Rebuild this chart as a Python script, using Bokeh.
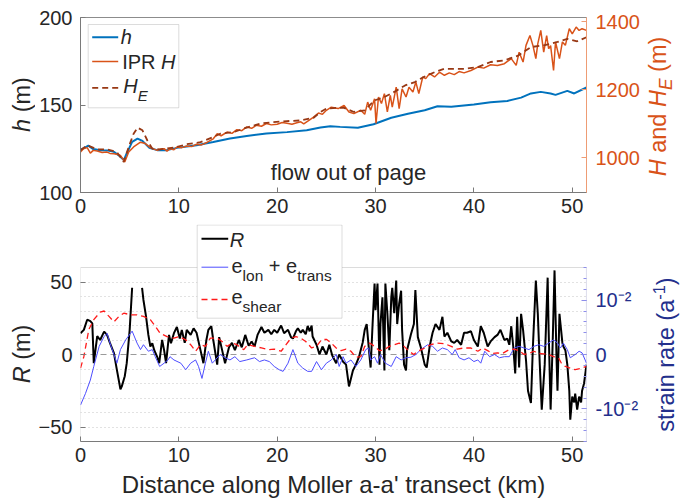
import math
import numpy as np
from bokeh.plotting import figure
from bokeh.layouts import column, row
from bokeh.models import (Range1d, LinearAxis, FixedTicker, Label, BoxAnnotation,
                          Arrow, Span)
from bokeh.embed import file_html
from bokeh.resources import INLINE

# ---------------- data ----------------
# surface-derived thickness h (m)
h_km = [0, 0.4, 0.8, 1.3, 2.0, 2.8, 3.4, 4.0, 4.4, 4.7, 5.25, 5.8, 6.3, 7.0, 7.8, 8.8, 9.8,
        11.8, 13.5, 15.2, 16.9, 18.9, 21.0, 23.0, 24.4, 25.4, 26.4, 28.2, 29.8, 31.6, 33.3,
        35.0, 36.3, 37.7, 40.0, 41.7, 43.4, 44.8, 45.8, 46.8, 47.8, 48.3, 49.5, 50.2, 51.45]
h_m = [124.5, 125.5, 126.8, 124.8, 124.2, 124.0, 123.2, 120.7, 118.5, 122.3, 128.9, 130.8,
       129.5, 125.5, 124.2, 124.2, 125.5, 127.0, 128.9, 130.9, 132.3, 133.7, 134.5, 135.6,
       137.1, 137.9, 137.5, 137.0, 139.0, 142.7, 145.0, 147.0, 149.3, 149.0, 150.3, 151.6,
       152.3, 154.2, 156.6, 157.5, 156.6, 155.8, 158.1, 156.6, 160.0]

# IPR ice thickness H (m)
H_km = [0, 0.3, 0.68, 1.0, 1.3, 1.7, 2.2, 2.7, 3.0, 3.4, 3.8, 4.06, 4.5, 4.9, 5.4, 6.1, 6.6,
        7.1, 7.8, 8.2, 8.5, 8.8, 9.1, 9.5, 9.8, 10.3, 10.8, 11.3, 11.8, 12.3, 12.9, 13.5, 13.9,
        14.3, 14.9, 15.4, 15.9, 16.4, 16.9, 17.4, 17.9, 18.4, 18.9, 19.4, 20.0, 20.5, 21.0,
        21.5, 22.0, 22.4, 22.7, 23.3, 23.7, 24.2, 24.6, 25.0, 25.5, 26.2, 26.8, 27.3, 27.8,
        28.5, 28.9, 29.2, 29.5, 29.9, 30.05, 30.3, 30.6, 30.9, 31.2, 31.5, 31.7, 32.1, 32.4,
        32.7, 33.1, 33.4, 33.8, 34.1, 34.4, 34.8, 35.1, 35.5, 36.0, 36.5, 37.0, 37.5, 38.0,
        38.5, 39.0, 39.7, 40.4, 41.0, 41.7, 42.4, 43.1, 43.8, 44.3, 44.6, 45.0, 45.3, 45.7,
        46.0, 46.3, 46.5, 46.8, 47.1, 47.4, 47.6, 47.8, 48.1, 48.3, 48.7, 49.0, 49.3, 49.7,
        50.0, 50.4, 50.7, 51.0, 51.45]
H_m = [1017, 1027, 1030, 1014, 1022, 1020, 1016, 1017, 1013, 1012, 1010, 1007, 988, 1017,
       1032, 1046, 1042, 1030, 1022, 1026, 1027, 1020, 1027, 1024, 1032, 1030, 1035, 1033,
       1040, 1038, 1046, 1056, 1071, 1065, 1076, 1072, 1083, 1080, 1091, 1087, 1096, 1093,
       1101, 1097, 1099, 1104, 1102, 1099, 1103, 1106, 1100, 1112, 1120, 1132, 1128, 1140,
       1149, 1145, 1154, 1135, 1130, 1140, 1128, 1164, 1140, 1174, 1101, 1179, 1160, 1189,
       1135, 1184, 1149, 1208, 1145, 1203, 1179, 1208, 1194, 1223, 1189, 1238, 1233, 1248,
       1238, 1252, 1243, 1250, 1245, 1254, 1250, 1257, 1267, 1264, 1274, 1272, 1277, 1292,
       1272, 1311, 1282, 1331, 1360, 1331, 1292, 1336, 1375, 1311, 1360, 1321, 1330, 1257,
       1341, 1292, 1341, 1331, 1380, 1365, 1385, 1375, 1380, 1375]

# hydrostatic-equilibrium thickness H_E (m)
HE_km = [0, 0.68, 1.7, 2.7, 3.7, 4.4, 4.9, 5.4, 5.8, 6.3, 6.8, 7.3, 8.1, 9.5, 10.8, 12.2,
         13.5, 14.2, 15.6, 16.9, 18.3, 19.6, 21.0, 22.3, 23.7, 24.4, 25.0, 26.1, 26.8, 27.8,
         28.9, 29.9, 30.9, 31.9, 33.0, 34.0, 34.9, 36.0, 37.0, 38.0, 39.0, 40.4, 41.7, 43.1,
         44.5, 45.8, 47.1, 48.5, 49.5, 50.5, 51.45]
HE_m = [1022, 1037, 1025, 1025, 1017, 988, 1032, 1071, 1089, 1081, 1051, 1027, 1025, 1030,
        1040, 1046, 1061, 1071, 1076, 1089, 1101, 1105, 1108, 1110, 1118, 1135, 1145, 1147,
        1147, 1135, 1140, 1169, 1179, 1194, 1213, 1223, 1238, 1252, 1262, 1262, 1262, 1267,
        1282, 1287, 1301, 1326, 1331, 1341, 1350, 1343, 1355]

# residual R (m); NaN marks the gap in the record
R_km = [0, 0.34, 0.68, 1.0, 1.2, 1.35, 1.7, 2.0, 2.4, 2.7, 3.0, 3.4, 3.7, 4.06, 4.2, 4.5,
        4.7, 5.0, 5.25, 5.75, 6.26, 6.4, 6.67, 6.9, 7.1, 7.3, 7.5, 7.8, 8.0, 8.3, 8.5, 8.7,
        9.0, 9.2, 9.5, 9.8, 10.1, 10.3, 10.6, 10.8, 11.2, 11.5, 11.8, 12.2, 12.5, 12.8, 13.0,
        13.3, 13.5, 13.9, 14.1, 14.4, 14.7, 15.1, 15.4, 15.7, 16.1, 16.4, 16.75, 17.1, 17.4,
        17.7, 18.0, 18.4, 18.7, 19.1, 19.4, 19.7, 20.0, 20.4, 20.7, 21.1, 21.4, 21.6, 21.9,
        22.1, 22.4, 22.6, 22.9, 23.1, 23.3, 23.5, 23.6, 24.0, 24.3, 24.6, 25.0, 25.3, 25.6,
        26.0, 26.3, 26.7, 27.0, 27.3, 27.7, 28.0, 28.3, 28.7, 28.9, 29.1, 29.4, 29.5, 29.7,
        29.9, 30.0, 30.2, 30.4, 30.5, 30.7, 30.9, 31.0, 31.2, 31.4, 31.6, 31.7, 31.9, 32.1,
        32.2, 32.4, 32.6, 32.7, 32.9, 33.1, 33.2, 33.6, 33.9, 34.05, 34.3, 34.6, 35.0, 35.2,
        35.5, 35.8, 36.1, 36.5, 36.8, 37.0, 37.3, 37.7, 38.0, 38.3, 38.7, 39.0, 39.3, 39.7,
        40.0, 40.4, 40.7, 41.0, 41.4, 41.7, 42.1, 42.4, 42.7, 43.1, 43.4, 43.6, 43.8, 44.0,
        44.2, 44.4, 44.6, 44.8, 45.0, 45.3, 45.5, 45.8, 46.0, 46.3, 46.5, 46.7, 46.9, 47.2,
        47.5, 47.6, 47.8, 48.0, 48.2, 48.4, 48.5, 48.7, 49.0, 49.1, 49.3, 49.5, 49.7, 49.8,
        50.0, 50.2, 50.3, 50.5, 50.7, 50.9, 51.0, 51.2, 51.45]
R_m = [14.7, 17, 24, 23, 21.5, -6, 12.6, 10, 15.8, 13.5, 7.8, 1, -10.6, -24, -22, -15,
       -6, 17, 46, float("nan"), 46, 37.6, 26, 13.5, 5.5, 7.8, 3, -1.6, -6, 10, 3, -6,
       13.5, 7.8, 14.7, 19, 11, 17, 8, 17, 13.5, 18, 15, 3, -6, 10, 17,
       19.5, 10, -7, 12, 3, -6, 5, 8, 3, 10, 5, 13.5, 6, 9,
       5.5, 13.5, 19, 15, 17, 14, 17, 15, 20, 14.7, 17, 12, 11, 16,
       18, 15, 17, 14, 19.7, 16, 20, 12.4, 6.7, 0, 5.5, 0, 6.7, -0.7,
       -6, 0, -5, -7, -22, -11, -7, -2, 8.5, 17, 21, -2, -9, 21,
       49, 30.5, 49, -7, 21, 39.5, -11, 49, 28.5, 3, 39.5, 46, 28.5, 51,
       21, 35, 44, 17, -7, -11, 3, 14, 21, 44.5, 12, 5, -7, -9,
       5.5, 15, 21, 17, 26, 12.4, 15, 9, 8, 10, 6.7, 15, 15, 16,
       10, 5.5, 19.5, 15, 5.5, 9, 12, 13.5, 17, 10, 11, 6.7, 19.5, 5.5,
       -13, 26, -9, 28, 17, -4, -25, -33.5, 5.5, 51, 28, -7, -38, -7,
       53, 17, -38, 5.5, 58, -2, -25, 28, 8, 5.5, 3, -7, -25, -45,
       -29, -33, -27, -38, -29, -33, -25, -20, -7]

# e_lon + e_trans strain rate (1/a)
esum_km = [0, 0.5, 1.0, 1.35, 1.9, 2.4, 2.7, 3.0, 3.4, 3.7, 4.06, 4.6, 5.25, 5.75, 6.1, 6.4,
           6.9, 7.3, 7.6, 8.05, 8.5, 8.9, 9.1, 9.5, 10.2, 10.7, 11.2, 11.7, 12.0, 12.35, 12.7,
           13.0, 13.4, 13.7, 14.2, 14.7, 15.2, 15.7, 16.2, 16.9, 17.7, 18.2, 18.7, 19.2, 19.7,
           20.2, 20.6, 21.1, 21.6, 22.1, 22.6, 23.1, 23.5, 24.0, 24.5, 25.0, 25.5, 26.0, 26.3,
           26.7, 27.0, 27.5, 28.0, 28.5, 29.0, 29.3, 29.5, 29.9, 30.2, 30.5, 31.0, 31.6, 32.1,
           32.6, 33.1, 33.6, 34.1, 34.6, 35.3, 35.8, 36.3, 36.8, 37.3, 37.8, 38.1, 38.5, 39.0,
           39.5, 40.0, 40.4, 40.7, 41.1, 41.6, 42.1, 42.6, 43.1, 43.6, 44.1, 44.6, 45.1, 45.6,
           46.1, 46.6, 47.1, 47.6, 48.1, 48.5, 48.8, 49.1, 49.5, 49.8, 50.3, 50.7, 51.0, 51.45]
esum = [-0.0093, -0.0072, -0.0047, -0.0022, 0.0015, 0.0033, 0.0039, 0.0021, 0.0000, -0.0016,
        0.0009, 0.0027, 0.0043, 0.0021, 0.0009, 0.0018, 0.0006, 0.0009, -0.0004, -0.0022,
        -0.0016, -0.0010, -0.0004, -0.0010, -0.0016, -0.0028, -0.0016, -0.0010, -0.0022,
        -0.0044, -0.0016, 0.0006, -0.0016, -0.0010, 0.0000, -0.0006, -0.0010, -0.0004,
        -0.0013, -0.0010, -0.0006, -0.0013, -0.0010, -0.0013, -0.0022, -0.0028, -0.0031,
        -0.0016, 0.0009, -0.0016, -0.0025, -0.0031, -0.0031, -0.0013, -0.0028, -0.0016,
        -0.0010, 0.0000, -0.0022, -0.0004, -0.0016, -0.0010, -0.0022, -0.0010, 0.0009,
        0.0012, -0.0010, -0.0004, -0.0016, 0.0000, -0.0016, -0.0022, -0.0004, -0.0010,
        -0.0006, -0.0005, 0.0000, 0.0009, 0.0018, 0.0015, 0.0006, 0.0012, 0.0009, 0.0000,
        0.0009, -0.0006, -0.0010, -0.0006, -0.0013, -0.0010, -0.0016, 0.0006, -0.0004,
        0.0000, -0.0006, -0.0004, -0.0004, 0.0012, 0.0015, 0.0012, 0.0009, 0.0015, 0.0018,
        0.0015, 0.0021, 0.0027, 0.0021, 0.0012, 0.0021, 0.0009, -0.0006, 0.0000, 0.0006,
        0.0003, -0.0016]

# e_shear strain rate (1/a)
eshear_km = [0, 0.34, 0.85, 1.35, 2.0, 2.4, 2.9, 3.4, 3.9, 4.4, 5.1, 5.75, 6.4, 7.1, 7.6,
             8.1, 8.8, 9.5, 10.0, 10.7, 11.2, 11.7, 12.2, 12.7, 13.2, 13.9, 14.4, 14.9, 15.4,
             15.9, 16.6, 17.0, 17.7, 18.4, 19.1, 19.7, 20.4, 20.9, 21.4, 21.9, 22.4, 22.9,
             23.5, 24.0, 24.5, 25.0, 25.5, 26.0, 26.5, 27.0, 27.5, 28.0, 28.5, 28.9, 29.4,
             29.9, 30.4, 30.9, 31.4, 31.9, 32.4, 32.9, 33.4, 33.9, 34.3, 35.0, 35.6, 36.3,
             37.0, 37.7, 38.3, 39.0, 39.7, 40.4, 40.9, 41.4, 41.9, 42.4, 42.9, 43.6, 44.1,
             44.6, 45.1, 45.6, 46.1, 46.6, 47.1, 47.6, 48.1, 48.6, 48.9, 49.3, 49.8, 50.3,
             50.8, 51.45]
eshear = [-0.0025, -0.0004, 0.0046, 0.0064, 0.0078, 0.0080, 0.0070, 0.0060, 0.0070, 0.0076,
          0.0073, 0.0073, 0.0070, 0.0064, 0.0052, 0.0039, 0.0033, 0.0030, 0.0033, 0.0027,
          0.0018, 0.0006, 0.0018, 0.0015, 0.0030, 0.0030, 0.0024, 0.0015, 0.0021, 0.0018,
          0.0009, 0.0018, 0.0015, 0.0012, 0.0009, 0.0010, 0.0006, 0.0018, 0.0030, 0.0033,
          0.0030, 0.0024, 0.0012, 0.0015, 0.0027, 0.0028, 0.0021, 0.0012, 0.0007, 0.0010,
          0.0006, -0.0005, -0.0004, 0.0015, 0.0021, 0.0015, 0.0007, 0.0009, 0.0015, 0.0018,
          0.0021, 0.0015, 0.0006, 0.0000, 0.0006, 0.0012, 0.0018, 0.0021, 0.0020, 0.0015,
          0.0010, 0.0012, 0.0012, 0.0006, 0.0012, 0.0007, 0.0002, 0.0003, 0.0002, 0.0009,
          0.0010, 0.0007, 0.0000, 0.0002, 0.0006, 0.0002, 0.0001, 0.0000, -0.0004, -0.0006,
          -0.0016, -0.0022, -0.0025, -0.0028, -0.0026, -0.0022]

# axis limits / ticks / labels
x_lim = (0, 51.45)
h_lim = (100, 200)
H_lim = (898, 1413)
R_lim = (-60, 60)
s_lim = (-0.016, 0.016)
x_ticks = [0, 10, 20, 30, 40, 50]
h_ticks = [100, 150, 200]
H_ticks = [1000, 1200, 1400]
R_ticks = [-50, 0, 50]
R_grid = [-50, -40, -30, -20, -10, 10, 20, 30, 40, 50]
s_ticks = [-0.01, 0, 0.01]
s_tick_labels = ["-10\u207b\u00b2", "0", "10\u207b\u00b2"]
s_minor = [-0.016, -0.014, -0.012, -0.010, -0.008, -0.006, -0.004, -0.002, 0.0, 0.002,
           0.004, 0.006, 0.008, 0.010, 0.012, 0.014, 0.016]

# ---------------- styling / layout (page pixels) ----------------
FONT = "Liberation Sans"
TXT = "#262626"
BLUE = "#0072BD"
ORANGE = "#D95319"
BROWN = "#983814"
NAVY = "#232F8C"
SBLUE = "#4D4DFF"
RED = "#FF1A1A"
GRAY = "#8c8c8c"
LSTRIP = 35      # left strip for y titles
RSTRIP = 642     # right strip starts here
FL = 79          # frame left
FR = 586         # frame right
FB1 = 192        # frame bottom of top panel
FT2 = 224        # drawing frame top of bottom panel
VT2 = 267        # visible box top of bottom panel
FB2 = 441        # frame bottom of bottom panel
KB = 0.34        # baseline correction (fraction of font size)

W = {' ': 278, '(': 333, ')': 333, '-': 333, "'": 191, '+': 584, 'a': 556, 'c': 500,
     'd': 556, 'e': 556, 'f': 278, 'g': 556, 'h': 556, 'i': 222, 'k': 500, 'l': 222,
     'm': 833, 'n': 556, 'o': 556, 'p': 556, 'r': 333, 's': 500, 't': 278, 'u': 556,
     'w': 722, 'D': 722, 'E': 667, 'H': 722, 'I': 278, 'M': 833, 'P': 667, 'R': 722,
     '1': 556, '2': 556}


def tw(s, size):
    return sum(W.get(c, 556) for c in s) * size / 1000.0


def rich(p, ox, oy, pieces, x0, y0, vertical=False):
    """place mixed-style text; (ox, oy) = page position of the frame's left/bottom."""
    adv = 0.0
    for txt, size, style, color, shift in pieces:
        lead = tw(txt[:len(txt) - len(txt.lstrip(' '))], size)
        a = adv + lead
        if vertical:
            cx, cy = x0 + shift - KB * size, y0 - a
        else:
            cx, cy = x0 + a, y0 + shift - KB * size
        p.add_layout(Label(x=cx - ox, y=oy - cy, x_units="screen", y_units="screen",
                           text=txt.strip(), text_font=FONT, text_font_size=f"{size}px",
                           text_font_style=style, text_color=color, text_align="left",
                           text_baseline="alphabetic",
                           angle=(math.pi / 2 if vertical else 0.0)))
        adv += tw(txt, size)
    return adv


def vtitle(p, ox, oy, pieces, xb, yc):
    L = sum(tw(t, s) for t, s, _, _, _ in pieces)
    rich(p, ox, oy, pieces, xb, yc + L / 2, vertical=True)


def style_axis(ax, color=TXT, line_color="#7a7a7a"):
    ax.major_tick_in = 5
    ax.major_tick_out = 0
    ax.minor_tick_in = 0
    ax.minor_tick_out = 0
    ax.axis_line_color = line_color
    ax.major_tick_line_color = line_color
    ax.major_label_text_font = FONT
    ax.major_label_text_font_size = "20px"
    ax.major_label_text_color = color


def sample(p, oy, x1, x2, y, **kw):
    p.add_layout(Arrow(x_start=x1 - FL, y_start=oy - y, x_end=x2 - FL, y_end=oy - y,
                       start_units="screen", end_units="screen", end=None, **kw))


def box(p, oy, l, r, t, b):
    p.add_layout(BoxAnnotation(left=l - FL, right=r - FL, top=oy - t, bottom=oy - b,
                               left_units="screen", right_units="screen",
                               top_units="screen", bottom_units="screen",
                               fill_color="white", fill_alpha=1.0,
                               line_color=GRAY, line_width=1))


MAIN_W = RSTRIP - LSTRIP
xr = Range1d(*x_lim)

# ---------------- top panel ----------------
p1 = figure(width=MAIN_W, height=223, x_range=xr, y_range=Range1d(*h_lim),
            output_backend="svg", toolbar_location=None,
            min_border_left=FL - LSTRIP, min_border_right=RSTRIP - FR,
            min_border_top=17, min_border_bottom=31)
p1.grid.visible = False
p1.outline_line_color = GRAY
p1.extra_y_ranges = {"H": Range1d(*H_lim)}
p1.xaxis.ticker = FixedTicker(ticks=x_ticks)
p1.yaxis.ticker = FixedTicker(ticks=h_ticks)
style_axis(p1.xaxis[0])
style_axis(p1.yaxis[0])
p1.xaxis.major_label_standoff = 6
p1.yaxis.major_label_standoff = 8
axH = LinearAxis(y_range_name="H", ticker=FixedTicker(ticks=H_ticks))
style_axis(axH, color=ORANGE, line_color="#EE9C74")
axH.major_label_standoff = 9
p1.add_layout(axH, "right")

p1.line(h_km, h_m, line_color=BLUE, line_width=2)
p1.line(H_km, H_m, y_range_name="H", line_color=ORANGE, line_width=1.5)
p1.line(HE_km, HE_m, y_range_name="H", line_color=BROWN, line_width=1.8, line_dash="6 4")

# legend (top)
box(p1, FB1, 86.7, 177.3, 24, 107.3)
sample(p1, FB1, 90.7, 116.7, 36.7, line_color=BLUE, line_width=2)
sample(p1, FB1, 90.7, 116.7, 61.0, line_color=ORANGE, line_width=1.5)
sample(p1, FB1, 90.7, 116.7, 87.3, line_color=BROWN, line_width=1.8, line_dash="6 4")
rich(p1, FL, FB1, [("h", 20, "italic", TXT, 0)], 119.3, 43.3)
rich(p1, FL, FB1, [("IPR ", 20, "normal", TXT, 0), ("H", 20, "italic", TXT, 0)], 120.7, 68.3)
rich(p1, FL, FB1, [("H", 20, "italic", TXT, 0), ("E", 15, "italic", TXT, 8)], 121.7, 92.0)

lbl_w = tw("flow out of page", 22)
rich(p1, FL, FB1, [("flow out of page", 22, "normal", TXT, 0)], 347 - lbl_w / 2, 179)

# ---------------- bottom panel ----------------
# the drawing frame starts above the visible box so that the legend can overlap its top
scale = (FB2 - FT2) / (FB2 - VT2)
R_view = (R_lim[0], R_lim[0] + (R_lim[1] - R_lim[0]) * scale)
s_view = (s_lim[0], s_lim[0] + (s_lim[1] - s_lim[0]) * scale)

p2 = figure(width=MAIN_W, height=504 - 223, x_range=xr, y_range=Range1d(*R_view),
            output_backend="svg", toolbar_location=None,
            min_border_left=FL - LSTRIP, min_border_right=RSTRIP - FR,
            min_border_top=FT2 - 223, min_border_bottom=504 - FB2)
p2.xgrid.visible = False
p2.ygrid.ticker = FixedTicker(ticks=R_grid)
p2.ygrid.grid_line_color = "#c4c4c4"
p2.ygrid.grid_line_dash = "1 3"
p2.outline_line_color = None
p2.extra_y_ranges = {"s": Range1d(*s_view)}
p2.xaxis.ticker = FixedTicker(ticks=x_ticks)
p2.yaxis.ticker = FixedTicker(ticks=R_ticks)
style_axis(p2.xaxis[0])
style_axis(p2.yaxis[0])
p2.yaxis.axis_line_color = None
p2.xaxis.major_label_standoff = 6
p2.yaxis.major_label_standoff = 8
p2.xaxis.axis_label = "Distance along Moller a-a' transect (km)"
p2.xaxis.axis_label_text_font = FONT
p2.xaxis.axis_label_text_font_size = "24px"
p2.xaxis.axis_label_text_font_style = "normal"
p2.xaxis.axis_label_text_color = TXT
p2.xaxis.axis_label_standoff = 6

axS = LinearAxis(y_range_name="s",
                 ticker=FixedTicker(ticks=s_ticks, minor_ticks=s_minor),
                 major_label_overrides=dict(zip(s_ticks, s_tick_labels)))
style_axis(axS, color=NAVY, line_color="#8E8EEA")
axS.axis_line_color = None
axS.minor_tick_in = 3
axS.minor_tick_line_color = "#8E8EEA"
axS.major_label_standoff = 9
p2.add_layout(axS, "right")

# visible plot box (axis limits) and the blue right-hand axis line
p2.add_layout(BoxAnnotation(left=x_lim[0], right=x_lim[1], bottom=R_lim[0], top=R_lim[1],
                            fill_color=None, line_color=GRAY, line_width=1, level="underlay"))
p2.add_layout(BoxAnnotation(left=x_lim[1], right=x_lim[1], bottom=R_lim[0], top=R_lim[1],
                            fill_color=None, line_color="#8E8EEA", line_width=1.2,
                            level="underlay"))
p2.add_layout(Span(location=0, dimension="width", line_color="#9a9a9a",
                   line_dash="6 4", line_width=1, level="underlay"))

p2.line(R_km, np.array(R_m, dtype=float), line_color="black", line_width=2)
p2.line(esum_km, esum, y_range_name="s", line_color=SBLUE, line_width=1)
p2.line(eshear_km, eshear, y_range_name="s", line_color=RED, line_width=1.3,
        line_dash="6 4")

# legend (bottom)
box(p2, FB2, 195.7, 340.5, 224.5, 317.7)
sample(p2, FB2, 200, 226.7, 238.3, line_color="black", line_width=2)
sample(p2, FB2, 200, 226.7, 266.7, line_color=SBLUE, line_width=1)
sample(p2, FB2, 200, 226.7, 299.0, line_color=RED, line_width=1.3, line_dash="6 4")
rich(p2, FL, FB2, [("R", 20, "italic", TXT, 0)], 228.3, 246)
rich(p2, FL, FB2, [("e", 20, "normal", TXT, 0), ("lon", 15.5, "normal", TXT, 7.5),
                   (" + e", 20, "normal", TXT, 0), ("trans", 15.5, "normal", TXT, 7.5)],
     230, 272.7)
rich(p2, FL, FB2, [("e", 20, "normal", TXT, 0), ("shear", 15.5, "normal", TXT, 8)],
     230, 303.3)

# ---------------- strips holding the rotated axis titles ----------------
def strip(w):
    s = figure(width=w, height=504, x_range=Range1d(0, 1), y_range=Range1d(0, 1),
               x_axis_type=None, y_axis_type=None, output_backend="svg",
               toolbar_location=None, min_border=0)
    s.outline_line_color = None
    s.grid.visible = False
    return s


sl = strip(LSTRIP)
sr = strip(680 - RSTRIP)

vtitle(sl, 0, 504, [("h", 23.5, "italic", TXT, 0), (" (m)", 23.5, "normal", TXT, 0)], 29, 104)
vtitle(sl, 0, 504, [("R", 23.5, "italic", TXT, 0), (" (m)", 23.5, "normal", TXT, 0)], 29, 353.5)
vtitle(sr, RSTRIP, 504, [("H", 23.5, "italic", ORANGE, 0), (" and ", 23.5, "normal", ORANGE, 0),
                         ("H", 23.5, "italic", ORANGE, 0), ("E", 17.5, "italic", ORANGE, 6),
                         (" (m)", 23.5, "normal", ORANGE, 0)], 665, 106)
vtitle(sr, RSTRIP, 504, [("strain rate (a", 23.5, "normal", NAVY, 0),
                         ("-1", 16.5, "normal", NAVY, -9),
                         (")", 23.5, "normal", NAVY, 0)], 673, 354)

layout = row(sl, column(p1, p2, spacing=0), sr, spacing=0)
open("out.html", "w").write(file_html(layout, INLINE))
